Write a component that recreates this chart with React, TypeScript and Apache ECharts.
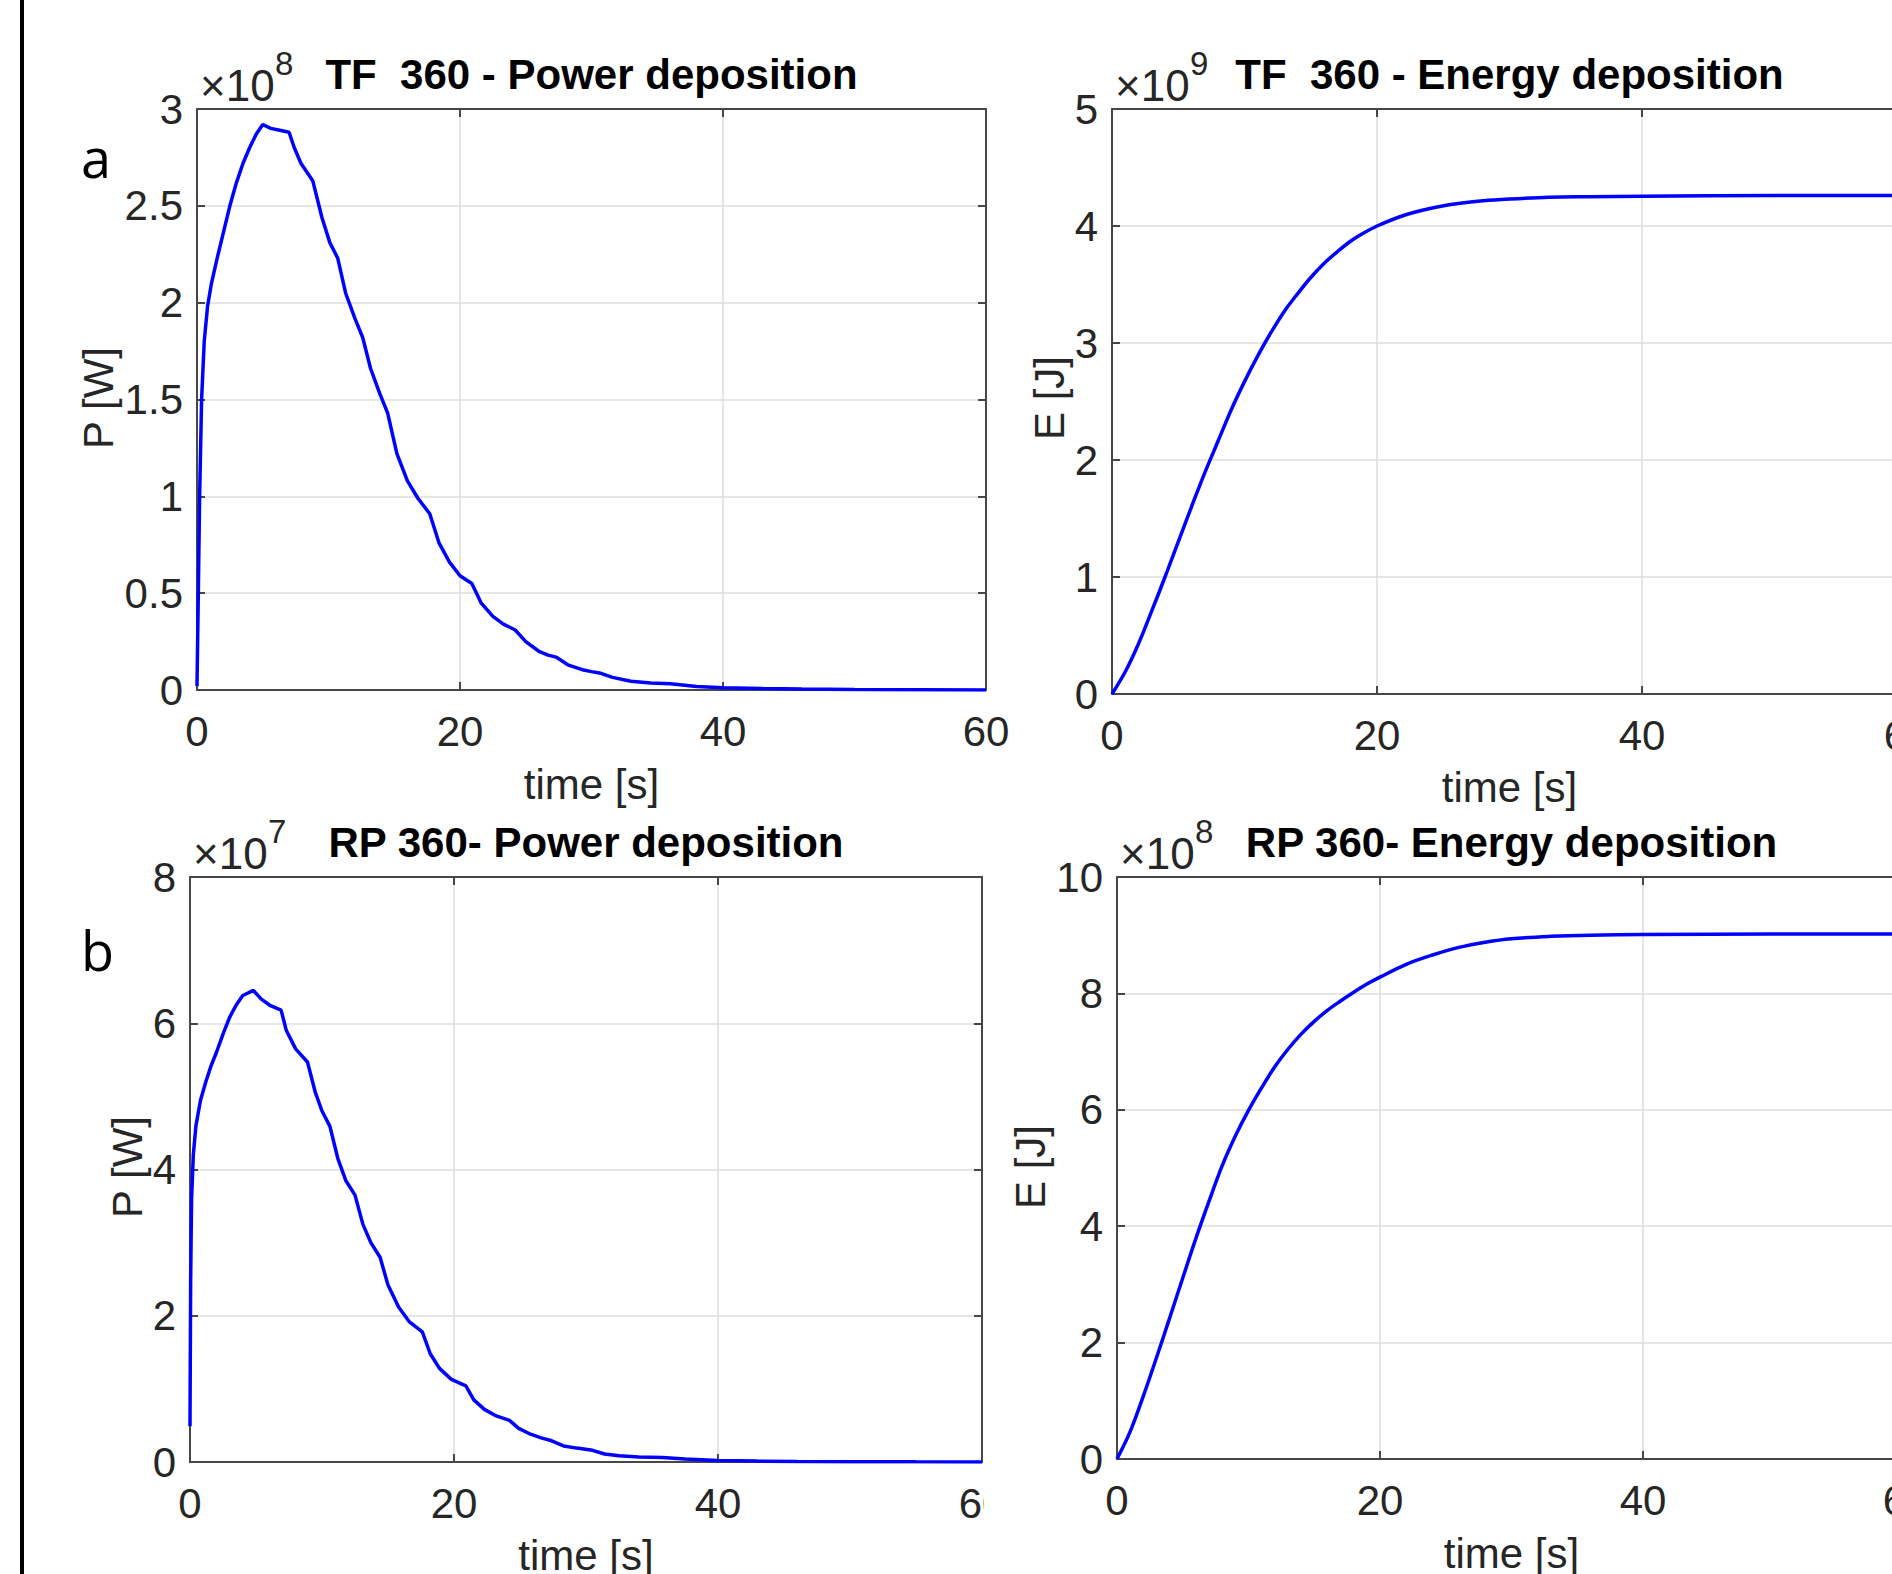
import React, { useEffect, useRef } from "react";
import * as echarts from "echarts";

// ---------- data ----------
// TF 360 power, P in units of 1e8 W
const tfPowerTime = [0, 0.1, 0.2, 0.35, 0.55, 0.8, 1.1, 1.5, 2.0, 2.5, 3.0, 3.5, 4.0, 4.5, 5.0, 5.6, 6.3, 7.0, 7.4, 7.9, 8.8, 9.5, 10.1, 10.7, 11.3, 12.0, 12.6, 13.2, 13.9, 14.5, 15.2, 16.0, 16.8, 17.7, 18.4, 19.2, 20.0, 20.9, 21.6, 22.5, 23.3, 24.2, 25.0, 26.0, 26.7, 27.3, 28.2, 29.3, 30.0, 30.6, 31.6, 33.0, 34.5, 36.0, 38.0, 40.0, 43.0, 46.0, 50.0, 55.0, 60.0];
const tfPower = [0.02, 0.5, 1.0, 1.5, 1.8, 1.98, 2.1, 2.22, 2.36, 2.5, 2.62, 2.72, 2.8, 2.87, 2.92, 2.9, 2.89, 2.88, 2.8, 2.72, 2.63, 2.44, 2.31, 2.23, 2.05, 1.92, 1.82, 1.66, 1.53, 1.43, 1.22, 1.08, 0.99, 0.91, 0.76, 0.66, 0.59, 0.55, 0.45, 0.38, 0.34, 0.31, 0.25, 0.2, 0.18, 0.17, 0.13, 0.105, 0.095, 0.088, 0.065, 0.045, 0.036, 0.032, 0.018, 0.012, 0.008, 0.005, 0.003, 0.0015, 0.0005];

// TF 360 energy, E in units of 1e9 J
const tfEnergyTime = [0, 1, 2, 3, 4, 5, 6, 7, 8, 9, 10, 11, 12, 13, 14, 15, 16, 17, 18, 19, 20, 22, 24, 26, 28, 30, 33, 36, 40, 50, 60];
const tfEnergy = [0, 0.19, 0.43, 0.71, 1.0, 1.3, 1.6, 1.89, 2.16, 2.43, 2.67, 2.89, 3.09, 3.27, 3.42, 3.56, 3.68, 3.78, 3.87, 3.94, 4.0, 4.09, 4.15, 4.19, 4.215, 4.23, 4.245, 4.25, 4.255, 4.26, 4.26];

// RP 360 power, P in units of 1e7 W
const rpPowerTime = [0, 0.05, 0.12, 0.25, 0.45, 0.8, 1.2, 1.6, 2.0, 2.5, 3.0, 3.5, 4.0, 4.8, 5.4, 6.1, 6.9, 7.3, 8.0, 8.9, 9.5, 10.0, 10.6, 11.2, 11.8, 12.5, 13.1, 13.7, 14.4, 15.0, 15.8, 16.6, 17.6, 18.2, 18.9, 19.8, 20.9, 21.5, 22.3, 23.2, 24.2, 24.9, 25.8, 26.6, 27.4, 28.3, 29.3, 30.5, 31.4, 32.5, 34.0, 35.8, 37.5, 40.0, 43.0, 46.0, 50.0, 55.0, 60.0];
const rpPower = [0.49, 2.5, 3.6, 4.2, 4.6, 4.95, 5.2, 5.42, 5.6, 5.85, 6.08, 6.25, 6.38, 6.45, 6.33, 6.24, 6.18, 5.9, 5.65, 5.47, 5.05, 4.8, 4.59, 4.15, 3.85, 3.65, 3.25, 3.0, 2.8, 2.42, 2.12, 1.92, 1.78, 1.48, 1.28, 1.13, 1.04, 0.85, 0.72, 0.63, 0.57, 0.46, 0.38, 0.33, 0.29, 0.22, 0.19, 0.16, 0.11, 0.085, 0.07, 0.062, 0.04, 0.02, 0.012, 0.008, 0.005, 0.002, 0.001];

// RP 360 energy, E in units of 1e8 J
const rpEnergyTime = [0, 1, 2, 3, 4, 5, 6, 7, 8, 9, 10, 11, 12, 13, 14, 15, 16, 17, 18, 19, 20, 22, 24, 26, 28, 30, 33, 36, 40, 50, 60];
const rpEnergy = [0, 0.47, 1.08, 1.74, 2.42, 3.11, 3.79, 4.43, 5.04, 5.55, 5.99, 6.38, 6.74, 7.04, 7.3, 7.52, 7.71, 7.87, 8.02, 8.16, 8.28, 8.5, 8.66, 8.79, 8.88, 8.94, 8.98, 9.0, 9.01, 9.02, 9.02];

const titles = ["TF  360 - Power deposition", "TF  360 - Energy deposition", "RP 360- Power deposition", "RP 360- Energy deposition"];
const yNames = ["P [W]", "E [J]", "P [W]", "E [J]"];
const xName = "time [s]";
const exponents = ["8", "9", "7", "8"];
const yMaxes = [3, 5, 8, 10];
const yIntervals = [0.5, 1, 2, 2];
const xTicks = { min: 0, max: 60, interval: 20 };
const panelLetters = ["a", "b"];

// ---------- layout / style ----------
const FONT = "'Liberation Sans', Arial, Helvetica, sans-serif";
const AX = "#474747";
const GRID = "#dedede";
const LINE = "#0000ff";
const TXT = "#262626";

const grids = [
  { left: 197, top: 109, width: 789, height: 581 },
  { left: 1112, top: 109, width: 795, height: 585 },
  { left: 190, top: 877, width: 792, height: 585 },
  { left: 1117, top: 877, width: 789, height: 582 },
];
const yNamePos = [
  [98, 398],
  [1049, 398],
  [127, 1167],
  [1030, 1167],
];
const xNameY = [784, 787, 1555, 1553];

function zip(xs: number[], ys: number[]) {
  return xs.map((x, i) => [x, ys[i]]);
}

const seriesData = [
  zip(tfPowerTime, tfPower),
  zip(tfEnergyTime, tfEnergy),
  zip(rpPowerTime, rpPower),
  zip(rpEnergyTime, rpEnergy),
];

function buildOption() {
  const xAxis: any[] = [];
  const yAxis: any[] = [];
  const series: any[] = [];
  const graphic: any[] = [];

  grids.forEach((g, i) => {
    const axLine = { show: true, onZero: false, lineStyle: { color: AX, width: 2 } };
    const tick = { show: true, inside: true, length: 8, lineStyle: { color: AX, width: 2 } };
    xAxis.push({
      gridIndex: i, type: "value", position: "bottom", ...xTicks,
      axisLine: axLine, axisTick: tick,
      axisLabel: { fontSize: 42, color: TXT, fontFamily: FONT, margin: 20 },
      splitLine: { show: true, lineStyle: { color: GRID, width: 1.5 } },
    });
    xAxis.push({
      gridIndex: i, type: "value", position: "top", ...xTicks,
      axisLine: axLine, axisTick: tick, axisLabel: { show: false }, splitLine: { show: false },
    });
    yAxis.push({
      gridIndex: i, type: "value", position: "left", min: 0, max: yMaxes[i], interval: yIntervals[i],
      axisLine: axLine, axisTick: tick,
      axisLabel: { fontSize: 42, color: TXT, fontFamily: FONT, margin: 14 },
      splitLine: { show: true, lineStyle: { color: GRID, width: 1.5 } },
    });
    yAxis.push({
      gridIndex: i, type: "value", position: "right", min: 0, max: yMaxes[i], interval: yIntervals[i],
      axisLine: axLine, axisTick: tick, axisLabel: { show: false }, splitLine: { show: false },
    });
    series.push({
      type: "line", xAxisIndex: 2 * i, yAxisIndex: 2 * i, data: seriesData[i],
      showSymbol: false, symbol: "none", smooth: i % 2 === 1 ? 0.35 : false,
      lineStyle: { color: LINE, width: 3.5 }, z: 5,
    });

    const cx = g.left + g.width / 2;
    const top = g.top;
    // title
    graphic.push({
      type: "text", x: cx, y: top - 35,
      style: { text: titles[i], fill: "#000", font: `bold 42px ${FONT}`, align: "center", verticalAlign: "middle" },
    });
    // exponent ×10^n
    graphic.push({
      type: "text", x: g.left + 3, y: top - 24,
      style: { text: "×10", fill: TXT, font: `44px ${FONT}`, align: "left", verticalAlign: "middle" },
    });
    graphic.push({
      type: "text", x: g.left + 78, y: top - 46,
      style: { text: exponents[i], fill: TXT, font: `33px ${FONT}`, align: "left", verticalAlign: "middle" },
    });
    // y name
    graphic.push({
      type: "text", x: yNamePos[i][0], y: yNamePos[i][1], rotation: Math.PI / 2,
      style: { text: yNames[i], fill: TXT, font: `42px ${FONT}`, align: "center", verticalAlign: "middle" },
    });
    // x name
    graphic.push({
      type: "text", x: cx, y: xNameY[i],
      style: { text: xName, fill: TXT, font: `42px ${FONT}`, align: "center", verticalAlign: "middle" },
    });
  });

  // the bottom-left panel is cropped just right of its plot box in the reference
  graphic.push({ type: "rect", shape: { x: 984, y: 1466, width: 40, height: 80 }, style: { fill: "#fff" }, z: 100 });
  // left black frame bar
  graphic.push({ type: "rect", shape: { x: 20, y: 0, width: 4, height: 1574 }, style: { fill: "#000" }, z: 100 });

  graphic.push({
    type: "text", x: 81, y: 157,
    style: { text: panelLetters[0], fill: "#000", font: `54px 'Open Sans', sans-serif`, align: "left", verticalAlign: "middle" },
  });
  graphic.push({
    type: "text", x: 81, y: 950,
    style: { text: panelLetters[1], fill: "#000", font: `54px 'Open Sans', sans-serif`, align: "left", verticalAlign: "middle" },
  });

  return {
    animation: false,
    backgroundColor: "#ffffff",
    grid: grids.map((g) => ({ ...g, containLabel: false, show: false })),
    xAxis,
    yAxis,
    series,
    graphic,
  };
}

export default function App() {
  const ref = useRef<HTMLDivElement>(null);
  useEffect(() => {
    if (!ref.current) return;
    const chart = echarts.init(ref.current, null, { renderer: "svg" });
    chart.setOption(buildOption());
    return () => chart.dispose();
  }, []);
  return (
    <div style={{ position: "fixed", left: 0, top: 0, width: "100vw", height: "100vh", overflow: "hidden", background: "#fff" }}>
      <div ref={ref} style={{ width: 1960, height: 1574 }} />
    </div>
  );
}
